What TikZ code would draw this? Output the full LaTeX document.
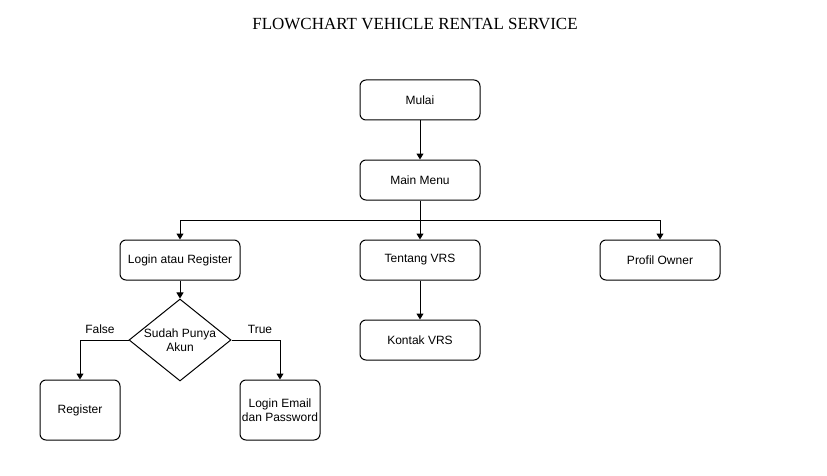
\documentclass[tikz,border=0pt]{standalone}
\usepackage{fontspec}
\setmainfont{Liberation Serif}
\setsansfont{Liberation Sans}
\usepackage{tikz}
\usetikzlibrary{calc,positioning,shapes.geometric,arrows.meta}

\begin{document}
\begin{tikzpicture}[x=1pt,y=-1pt,line width=1pt,
    box/.style={draw,rounded corners=6pt,minimum width=120pt,minimum height=40pt,
      font=\sffamily\fontsize{12}{14}\selectfont,align=center,inner sep=1pt},
    smallbox/.style={box,minimum width=80pt,minimum height=60pt},
    decision/.style={draw,diamond,aspect=1.25,minimum width=102pt,minimum height=82pt,
      inner sep=0pt,font=\sffamily\fontsize{12}{14}\selectfont,align=center},
    lbl/.style={font=\sffamily\fontsize{12}{14}\selectfont},
    arr/.style={-{Triangle[length=6pt,width=7pt]}}]
    \useasboundingbox (0,0) rectangle (827,476);
    \node[font=\fontsize{17}{20}\selectfont] (title) at (415,24) {FLOWCHART VEHICLE RENTAL SERVICE};
    \node[box] (mulai) at (420,100) {Mulai};
    \node[box] (menu) at (420,180) {Main Menu};
    \node[box] (login) at (180,260) {Login atau Register};
    \node[box] (tentang) at (420,260) {Tentang VRS};
    \node[box] (profil) at (660,260) {Profil Owner};
    \node[box] (kontak) at (420,340) {Kontak VRS};
    \node[decision] (akun) at (180,340) {Sudah Punya\\Akun};
    \node[smallbox] (register) at (80,410) {Register};
    \node[smallbox] (email) at (280,410) {Login Email\\dan Password};
    \coordinate (split) at ($(menu.south)+(0,20)$);
    % alur utama
    \draw[arr] (mulai) -- (menu);
    \draw[arr] (menu) -- (tentang);
    \draw[arr] (split) -| (login);
    \draw[arr] (split) -| (profil);
    \draw[arr] (tentang) -- (kontak);
    % cabang akun
    \draw[arr] (login) -- (akun);
    \draw[arr] (akun.west) -| (register);
    \draw[arr] (akun.east) -| (email);
    \node[lbl] (false) at (100,329) {False};
    \node[lbl] (true) at (260,329) {True};
  \end{tikzpicture}
\end{document}
